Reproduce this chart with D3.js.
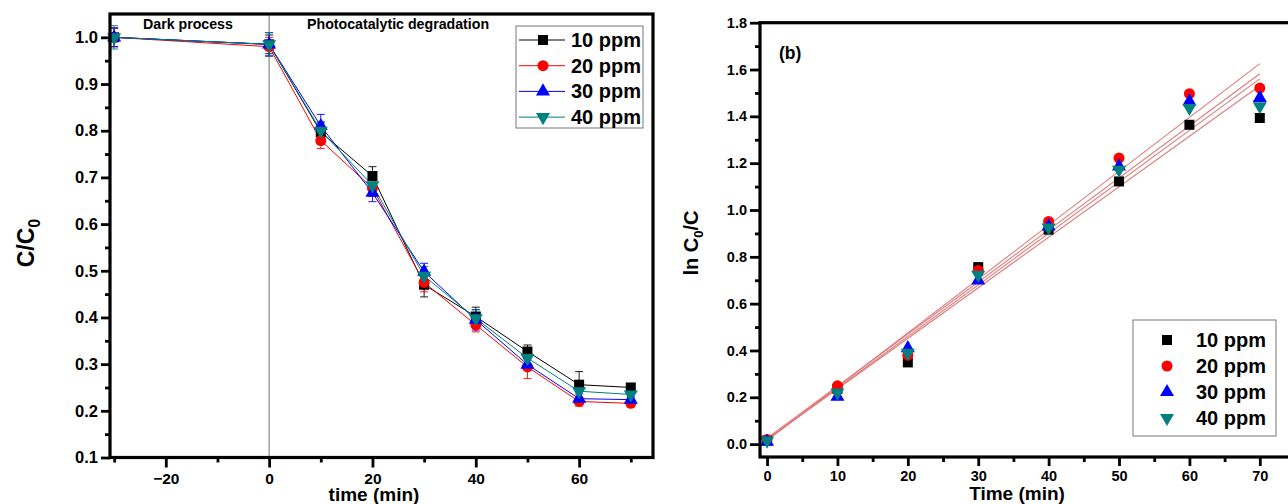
<!DOCTYPE html>
<html><head><meta charset="utf-8">
<script src="https://cdn.jsdelivr.net/npm/d3@7"></script>
<style>
html,body{margin:0;padding:0;background:#fff;}
svg text{font-family:"Liberation Sans",Arial,sans-serif;font-weight:bold;}
</style></head>
<body><svg id="c" width="1288" height="504"></svg>
<script>
// ---------- data ----------
const seriesNames = ["10 ppm", "20 ppm", "30 ppm", "40 ppm"];
const seriesColors = ["#000000", "#ff0000", "#0000ff", "#008080"];
const seriesSymbols = ["square", "circle", "triangle", "triangleDown"];

// Panel (a): C/C0 vs time
const timesA = [-30, 0, 10, 20, 30, 40, 50, 60, 70];
const cc10 = [1.000, 0.985, 0.797, 0.703, 0.470, 0.402, 0.327, 0.256, 0.250];
const cc20 = [1.000, 0.980, 0.779, 0.677, 0.475, 0.384, 0.294, 0.220, 0.216];
const cc30 = [1.000, 0.985, 0.810, 0.667, 0.498, 0.395, 0.299, 0.226, 0.224];
const cc40 = [1.000, 0.985, 0.800, 0.683, 0.489, 0.398, 0.313, 0.242, 0.235];
const err10 = [0.020, 0.020, 0.020, 0.020, 0.026, 0.020, 0.014, 0.028, 0.006];
const err20 = [0.020, 0.020, 0.017, 0.018, 0.020, 0.015, 0.025, 0.010, 0.006];
const err30 = [0.020, 0.025, 0.025, 0.019, 0.018, 0.022, 0.012, 0.010, 0.006];
const err40 = [0.025, 0.025, 0.020, 0.020, 0.020, 0.018, 0.015, 0.014, 0.006];

// Panel (b): ln C0/C vs time
const timesB = [0, 10, 20, 30, 40, 50, 60, 70];
const ln10 = [0.015, 0.235, 0.349, 0.756, 0.916, 1.122, 1.364, 1.393];
const ln20 = [0.020, 0.249, 0.380, 0.742, 0.951, 1.222, 1.497, 1.521];
const ln30 = [0.010, 0.203, 0.410, 0.699, 0.930, 1.186, 1.464, 1.479];
const ln40 = [0.015, 0.220, 0.390, 0.723, 0.925, 1.172, 1.436, 1.443];
// linear fit lines: value at t=0 and at t=70
const fitTimes = [0, 70];
const fit10 = [0.020, 1.531];
const fit20 = [0.015, 1.625];
const fit30 = [0.025, 1.582];
const fit40 = [0.020, 1.560];

// ticks
const ticksAX = [-20, 0, 20, 40, 60];
const minorAX = [-30, -10, 10, 30, 50, 70];
const ticksAY = [0.1, 0.2, 0.3, 0.4, 0.5, 0.6, 0.7, 0.8, 0.9, 1.0];
const minorAY = [0.15, 0.25, 0.35, 0.45, 0.55, 0.65, 0.75, 0.85, 0.95];
const ticksBX = [0, 10, 20, 30, 40, 50, 60, 70];
const minorBX = [5, 15, 25, 35, 45, 55, 65];
const ticksBY = [0.0, 0.2, 0.4, 0.6, 0.8, 1.0, 1.2, 1.4, 1.6, 1.8];
const minorBY = [0.1, 0.3, 0.5, 0.7, 0.9, 1.1, 1.3, 1.5, 1.7];

// ---------- drawing ----------
const svg = d3.select("#c");
const symType = {square: d3.symbolSquare, circle: d3.symbolCircle, triangle: d3.symbolTriangle, triangleDown: d3.symbolTriangle};
const symSize = {square: 100, circle: 95, triangle: 85, triangleDown: 85};
function marker(g, kind, x, y, color) {
  g.append("path")
    .attr("d", d3.symbol().type(symType[kind]).size(symSize[kind])())
    .attr("transform", `translate(${x},${y})` + (kind === "triangleDown" ? " rotate(180)" : ""))
    .attr("fill", color);
}
function styleAxis(g, fontSize) {
  g.select(".domain").remove();
  g.selectAll(".tick line").attr("stroke", "#000").attr("stroke-width", 2.8);
  g.selectAll(".tick text").attr("fill", "#000").style("font-size", fontSize + "px");
}

// ===== Panel (a) =====
const A = {l: 110, r: 653, t: 14, b: 457.5};
const xA = d3.scaleLinear().domain([-30.8, 74.3]).range([A.l, A.r]);
const yA = d3.scaleLinear().domain([0.1, 1.05]).range([A.b, A.t]);
const gA = svg.append("g");

// gray divider at t=0
gA.append("line").attr("x1", xA(0)).attr("x2", xA(0)).attr("y1", A.t).attr("y2", A.b)
  .attr("stroke", "#9a9a9a").attr("stroke-width", 1.4);

const dataA = [cc10, cc20, cc30, cc40];
const errA = [err10, err20, err30, err40];
const lineA = d3.line().x((d, i) => xA(timesA[i])).y(d => yA(d));
dataA.forEach((vals, s) => {
  gA.append("path").attr("d", lineA(vals)).attr("fill", "none")
    .attr("stroke", seriesColors[s]).attr("stroke-width", 1);
});
dataA.forEach((vals, s) => {
  const c = seriesColors[s];
  vals.forEach((v, i) => {
    const x = xA(timesA[i]), e = errA[s][i];
    const y1 = yA(v - e), y2 = yA(v + e);
    gA.append("line").attr("x1", x).attr("x2", x).attr("y1", y1).attr("y2", y2).attr("stroke", c).attr("stroke-width", 0.9);
    gA.append("line").attr("x1", x - 4).attr("x2", x + 4).attr("y1", y1).attr("y2", y1).attr("stroke", c).attr("stroke-width", 0.9);
    gA.append("line").attr("x1", x - 4).attr("x2", x + 4).attr("y1", y2).attr("y2", y2).attr("stroke", c).attr("stroke-width", 0.9);
  });
});
dataA.forEach((vals, s) => {
  vals.forEach((v, i) => marker(gA, seriesSymbols[s], xA(timesA[i]), yA(v), seriesColors[s]));
});

// axes (a)
const axAB = gA.append("g").attr("transform", `translate(0,${A.b})`)
  .call(d3.axisBottom(xA).tickValues(ticksAX).tickSize(10).tickPadding(5).tickFormat(d3.format("d")));
styleAxis(axAB, 15.5);
const axABm = gA.append("g").attr("transform", `translate(0,${A.b})`)
  .call(d3.axisBottom(xA).tickValues(minorAX).tickSize(5).tickFormat(""));
styleAxis(axABm, 15);
const axAL = gA.append("g").attr("transform", `translate(${A.l},0)`)
  .call(d3.axisLeft(yA).tickValues(ticksAY).tickSize(9).tickPadding(3).tickFormat(d3.format(".1f")));
styleAxis(axAL, 16.5);
const axALm = gA.append("g").attr("transform", `translate(${A.l},0)`)
  .call(d3.axisLeft(yA).tickValues(minorAY).tickSize(5).tickFormat(""));
styleAxis(axALm, 15);
gA.append("rect").attr("x", A.l).attr("y", A.t).attr("width", A.r - A.l).attr("height", A.b - A.t)
  .attr("fill", "none").attr("stroke", "#000").attr("stroke-width", 3.2);

gA.append("text").attr("x", 143).attr("y", 29).style("font-size", "14.2px").text("Dark process");
gA.append("text").attr("x", 307).attr("y", 29).style("font-size", "14.2px").text("Photocatalytic degradation");

// axis titles (a)
gA.append("text").attr("x", 374).attr("y", 501).attr("text-anchor", "middle").style("font-size", "19px").text("time (min)");
const ylA = gA.append("text").attr("transform", "translate(34,243) rotate(-90)").attr("text-anchor", "middle").style("font-size", "23px");
ylA.append("tspan").text("C/C");
ylA.append("tspan").attr("dy", 6).style("font-size", "16px").text("0");

// legend (a)
const legA = gA.append("g");
legA.append("rect").attr("x", 516).attr("y", 26).attr("width", 127).attr("height", 102)
  .attr("fill", "#fff").attr("stroke", "#777").attr("stroke-width", 1);
seriesNames.forEach((n, s) => {
  const cy = 40 + s * 25.7;
  legA.append("line").attr("x1", 519).attr("x2", 565).attr("y1", cy).attr("y2", cy).attr("stroke", seriesColors[s]).attr("stroke-width", 1);
  marker(legA, seriesSymbols[s], 543, cy, seriesColors[s]);
  legA.append("text").attr("x", 571).attr("y", cy + 7).style("font-size", "20px").text(n);
});

// ===== Panel (b) =====
const B = {l: 760, r: 1295, t: 22.7, b: 457};
const xB = d3.scaleLinear().domain([-1, 75]).range([B.l, B.r]);
const yB = d3.scaleLinear().domain([-0.055, 1.8]).range([B.b, B.t]);
const gB = svg.append("g");

const fits = [fit10, fit20, fit30, fit40];
fits.forEach(f => {
  gB.append("line").attr("x1", xB(fitTimes[0])).attr("x2", xB(fitTimes[1]))
    .attr("y1", yB(f[0])).attr("y2", yB(f[1]))
    .attr("stroke", "#e07a7a").attr("stroke-width", 1.1);
});
const dataB = [ln10, ln20, ln30, ln40];
dataB.forEach((vals, s) => {
  vals.forEach((v, i) => marker(gB, seriesSymbols[s], xB(timesB[i]), yB(v), seriesColors[s]));
});

const axBB = gB.append("g").attr("transform", `translate(0,${B.b})`)
  .call(d3.axisBottom(xB).tickValues(ticksBX).tickSize(9).tickPadding(5).tickFormat(d3.format("d")));
styleAxis(axBB, 14.5);
const axBBm = gB.append("g").attr("transform", `translate(0,${B.b})`)
  .call(d3.axisBottom(xB).tickValues(minorBX).tickSize(5).tickFormat(""));
styleAxis(axBBm, 14);
const axBL = gB.append("g").attr("transform", `translate(${B.l},0)`)
  .call(d3.axisLeft(yB).tickValues(ticksBY).tickSize(10).tickPadding(3).tickFormat(d3.format(".1f")));
styleAxis(axBL, 14.5);
const axBLm = gB.append("g").attr("transform", `translate(${B.l},0)`)
  .call(d3.axisLeft(yB).tickValues(minorBY).tickSize(5).tickFormat(""));
styleAxis(axBLm, 14);
gB.append("rect").attr("x", B.l).attr("y", B.t).attr("width", B.r - B.l).attr("height", B.b - B.t)
  .attr("fill", "none").attr("stroke", "#000").attr("stroke-width", 3.2);

gB.append("text").attr("x", 779).attr("y", 59).style("font-size", "17.5px").text("(b)");
gB.append("text").attr("x", 1017).attr("y", 500).attr("text-anchor", "middle").style("font-size", "19px").text("Time (min)");
const ylB = gB.append("text").attr("transform", "translate(698,243) rotate(-90)").attr("text-anchor", "middle").style("font-size", "20px");
ylB.append("tspan").text("ln C");
ylB.append("tspan").attr("dy", 5).style("font-size", "13px").text("0");
ylB.append("tspan").attr("dy", -5).text("/C");

const legB = gB.append("g");
legB.append("rect").attr("x", 1133).attr("y", 320).attr("width", 143).attr("height", 116)
  .attr("fill", "#fff").attr("stroke", "#777").attr("stroke-width", 1);
seriesNames.forEach((n, s) => {
  const cy = 340 + s * 26;
  marker(legB, seriesSymbols[s], 1167, cy, seriesColors[s]);
  legB.append("text").attr("x", 1196).attr("y", cy + 7).style("font-size", "20px").text(n);
});
</script></body></html>
